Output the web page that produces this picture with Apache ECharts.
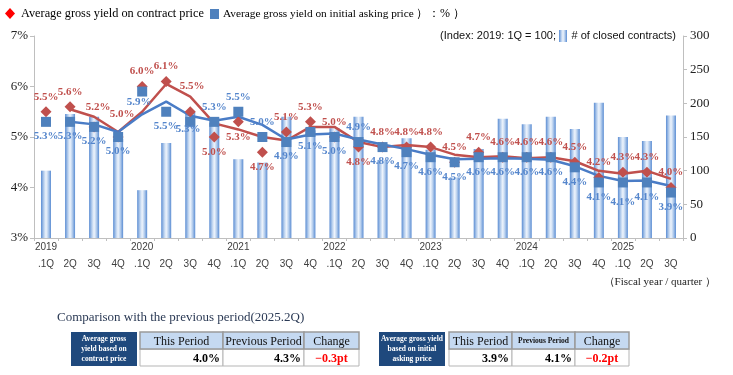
<!DOCTYPE html>
<html>
<head>
<meta charset="utf-8">
<script src="https://cdn.jsdelivr.net/npm/echarts@6/dist/echarts.min.js"></script>
<style>
  html, body { margin: 0; padding: 0; background: #fff; }
  #chart { width: 733px; height: 375px; }
</style>
</head>
<body>
<div id="chart"></div>
<script>
// categories (fiscal year / quarter)
const categories = [
  '2019\n.1Q', '\n2Q', '\n3Q', '\n4Q',
  '2020\n.1Q', '\n2Q', '\n3Q', '\n4Q',
  '2021\n.1Q', '\n2Q', '\n3Q', '\n4Q',
  '2022\n.1Q', '\n2Q', '\n3Q', '\n4Q',
  '2023\n.1Q', '\n2Q', '\n3Q', '\n4Q',
  '2024\n.1Q', '\n2Q', '\n3Q', '\n4Q',
  '2025\n.1Q', '\n2Q', '\n3Q'
];
// # of closed contracts (index, 2019 1Q = 100)
const closedContracts = [100, 184, 180, 147, 71, 141, 187, 171, 117, 112, 180, 160, 163, 180, 116, 148, 131, 90, 132, 177, 169, 180, 162, 201, 150, 144, 182];
// average gross yield (%)
const contractYield = [5.5, 5.6, 5.2, 5.0, 6.0, 6.1, 5.5, 5.0, 5.3, 4.7, 5.1, 5.3, 5.0, 4.8, 4.8, 4.8, 4.8, 4.5, 4.7, 4.6, 4.6, 4.6, 4.5, 4.2, 4.3, 4.3, 4.0];
const askingYield = [5.3, 5.3, 5.2, 5.0, 5.9, 5.5, 5.3, 5.3, 5.5, 5.0, 4.9, 5.1, 5.0, 4.9, 4.8, 4.7, 4.6, 4.5, 4.6, 4.6, 4.6, 4.6, 4.4, 4.1, 4.1, 4.1, 3.9];
// trend lines as drawn
const contractTrend = [null, 5.55, 5.4, 5.1, 5.5, 6.05, 5.8, 5.27, 5.15, 5.0, 4.93, 5.2, 5.2, 4.9, 4.8, 4.84, 4.8, 4.65, 4.6, 4.62, 4.58, 4.6, 4.52, 4.33, 4.27, 4.33, 4.17];
const askingTrend = [null, 5.3, 5.25, 5.1, 5.45, 5.7, 5.42, 5.32, 5.4, 5.24, 4.95, 5.05, 5.07, 4.95, 4.85, 4.76, 4.65, 4.56, 4.57, 4.58, 4.57, 4.55, 4.42, 4.23, 4.13, 4.14, 4.03];

// comparison tables
const compareHead = ['This Period', 'Previous Period', 'Change'];
const contractCompare = ['4.0%', '4.3%', '\u22120.3pt'];
const askingCompare = ['3.9%', '4.1%', '\u22120.2pt'];

const RED = '#C0504D';
const BLUE = '#4F81BD';
const SERIF = '"Liberation Serif", "DejaVu Serif", serif';
const SANS = '"Liberation Sans", Arial, sans-serif';

// label placement tweaks (index -> position / offset)
const redBelow = [7, 8, 9, 13];
const blueAbove = [7, 8, 9, 13];
const redOffset = { 2: [4, -5], 3: [4, -8], 6: [2, -11] };
const blueOffset = { 4: [-3, -4], 6: [-2, -7], 24: [0, 5] };

// font size that makes a string span a given width
const measureCtx = document.createElement('canvas').getContext('2d');
function fitSize(str, width, family) {
  measureCtx.font = '20px ' + family;
  return 20 * width / measureCtx.measureText(str).width;
}

const chart = echarts.init(document.getElementById('chart'));

const barFill = new echarts.graphic.LinearGradient(0, 0, 1, 0, [
  { offset: 0, color: '#5B8DD3' },
  { offset: 0.3, color: '#BDD3EF' },
  { offset: 0.5, color: '#EEF4FC' },
  { offset: 0.7, color: '#BDD3EF' },
  { offset: 1, color: '#5B8DD3' }
]);

function pointData(values, flip, offs, defPos, flipPos) {
  return values.map((v, i) => ({
    value: v,
    label: { position: flip.includes(i) ? flipPos : defPos, offset: offs[i] || [0, 0] }
  }));
}

function table(x0, cols, labelLines, values, prevSmall) {
  const y0 = 332, hh = 17, rh = 17;
  const els = [];
  els.push({ type: 'rect', shape: { x: x0, y: y0, width: 66, height: 34 }, style: { fill: '#1F497D' } });
  els.push({
    type: 'text', x: x0 + 33, y: y0 + 17,
    style: { text: labelLines.join('\n'), fill: '#fff', font: 'bold 7.5px ' + SERIF, align: 'center', verticalAlign: 'middle', lineHeight: 10 }
  });
  for (let i = 0; i < 3; i++) {
    const a = cols[i], b = cols[i + 1];
    els.push({ type: 'rect', shape: { x: a, y: y0 + hh, width: b - a, height: rh }, style: { fill: '#fff', stroke: '#B5B5B5', lineWidth: 1 } });
    els.push({ type: 'rect', shape: { x: a, y: y0, width: b - a, height: hh }, style: { fill: '#C5D9F1', stroke: '#9A9A9A', lineWidth: 1.5 } });
    const small = prevSmall && i === 1;
    els.push({
      type: 'text', x: (a + b) / 2, y: y0 + hh / 2 + 1,
      style: { text: compareHead[i], fill: '#111', font: (small ? 'bold 7.5px ' : '12px ') + SERIF, align: 'center', verticalAlign: 'middle' }
    });
    const isChange = i === 2;
    els.push({
      type: 'text', x: isChange ? (a + b) / 2 : b - 3, y: y0 + hh + rh / 2 + 1,
      style: { text: values[i], fill: isChange ? '#FF0000' : '#000', font: 'bold 12px ' + SERIF, align: isChange ? 'center' : 'right', verticalAlign: 'middle' }
    });
  }
  return els;
}

const legend1 = 'Average gross yield on contract price';
const legend2 = 'Average gross yield on initial asking price';
const size1 = fitSize(legend1, 183, SERIF);
const size2 = fitSize(legend2, 191, SERIF);

const option = {
  animation: false,
  grid: { left: 34, right: 50, top: 36, bottom: 137 },
  xAxis: {
    type: 'category',
    data: categories,
    axisLine: { lineStyle: { color: '#BFBFBF', width: 1 } },
    axisTick: { show: true, length: 3, lineStyle: { color: '#BFBFBF' } },
    axisLabel: { interval: 0, color: '#404040', fontFamily: SANS, fontSize: 10, lineHeight: 17, margin: 1 }
  },
  yAxis: [
    {
      type: 'value', min: 3, max: 7, interval: 1,
      splitLine: { show: false },
      axisLine: { show: true, lineStyle: { color: '#BFBFBF' } },
      axisTick: { show: true, length: 4, lineStyle: { color: '#BFBFBF' } },
      axisLabel: { formatter: '{value}%', color: '#222', fontFamily: SERIF, fontSize: 13, margin: 6 }
    },
    {
      type: 'value', min: 0, max: 300, interval: 50,
      splitLine: { show: false },
      axisLine: { show: true, lineStyle: { color: '#BFBFBF' } },
      axisTick: { show: true, length: 4, lineStyle: { color: '#BFBFBF' } },
      axisLabel: { color: '#222', fontFamily: SERIF, fontSize: 13, margin: 7 }
    }
  ],
  series: [
    {
      name: '# of closed contracts', type: 'bar', yAxisIndex: 1,
      data: closedContracts, barWidth: 10,
      itemStyle: { color: barFill }
    },
    {
      name: 'contract trend', type: 'line', data: contractTrend,
      symbol: 'none', lineStyle: { color: RED, width: 2.5 }, z: 3
    },
    {
      name: 'asking trend', type: 'line', data: askingTrend,
      symbol: 'none', lineStyle: { color: '#4A7CC6', width: 2.5 }, z: 3
    },
    {
      name: 'Average gross yield on contract price', type: 'scatter',
      data: pointData(contractYield, redBelow, redOffset, 'top', 'bottom'),
      symbol: 'diamond', symbolSize: 11, itemStyle: { color: RED, opacity: 1 }, z: 4,
      label: { show: true, formatter: p => p.value.toFixed(1) + '%', color: RED, fontFamily: SERIF, fontWeight: 'bold', fontSize: 11, distance: 4 }
    },
    {
      name: 'Average gross yield on initial asking price', type: 'scatter',
      data: pointData(askingYield, blueAbove, blueOffset, 'bottom', 'top'),
      symbol: 'rect', symbolSize: 10, itemStyle: { color: BLUE, opacity: 1 }, z: 4,
      label: { show: true, formatter: p => p.value.toFixed(1) + '%', color: '#5586CC', fontFamily: SERIF, fontWeight: 'bold', fontSize: 11, distance: 4 }
    }
  ],
  graphic: [
    // top legend
    { type: 'polygon', shape: { points: [[10, 8], [15, 13.5], [10, 19], [5, 13.5]] }, style: { fill: '#FF0000' } },
    { type: 'text', x: 21, y: 14, style: { text: legend1, font: size1.toFixed(2) + 'px ' + SERIF, fill: '#000', verticalAlign: 'middle' } },
    { type: 'rect', shape: { x: 210, y: 9, width: 9, height: 10 }, style: { fill: BLUE } },
    { type: 'text', x: 223, y: 14, style: { text: legend2, font: size2.toFixed(2) + 'px ' + SERIF, fill: '#000', verticalAlign: 'middle' } },
    { type: 'text', x: 416, y: 14, style: { text: '\uFF09\uFF1A% \uFF09', font: '12px ' + SERIF, fill: '#000', verticalAlign: 'middle' } },
    // bar legend
    { type: 'text', x: 556, y: 36, style: { text: '(Index: 2019: 1Q = 100;', font: '11px ' + SANS, fill: '#111', align: 'right', verticalAlign: 'middle' } },
    { type: 'rect', shape: { x: 559, y: 30, width: 8, height: 12 }, style: { fill: barFill } },
    { type: 'text', x: 676, y: 36, style: { text: '# of closed contracts)', font: '11px ' + SANS, fill: '#111', align: 'right', verticalAlign: 'middle' } },
    // x-axis note
    { type: 'text', x: 716, y: 282, style: { text: '\uFF08Fiscal year / quarter \uFF09', font: '11px ' + SERIF, fill: '#222', align: 'right', verticalAlign: 'middle' } },
    // comparison title
    { type: 'text', x: 57, y: 318, style: { text: 'Comparison with the previous period(2025.2Q)', font: '13px ' + SERIF, fill: '#2B3A55', verticalAlign: 'middle' } },
    ...table(71, [140, 223, 304, 359], ['Average gross', 'yield based on', 'contract price'], contractCompare, false),
    ...table(379, [449, 512, 575, 629], ['Average gross yield', 'based on initial', 'asking price'], askingCompare, true)
  ]
};

chart.setOption(option);
</script>
</body>
</html>
